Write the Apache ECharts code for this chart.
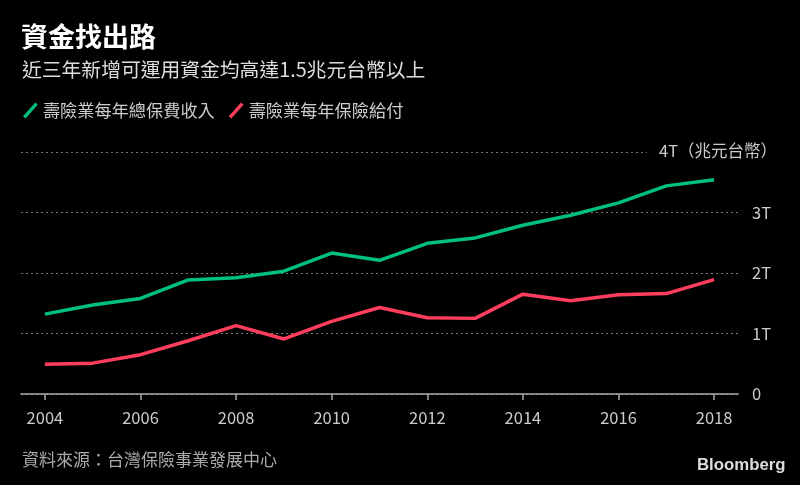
<!DOCTYPE html>
<html><head><meta charset="utf-8">
<script src="https://cdn.jsdelivr.net/npm/echarts@6/dist/echarts.min.js"></script>
<style>html,body{margin:0;padding:0;background:#000;}#c{width:800px;height:485px;}</style>
</head><body><div id="c"></div>
<script>
const years = ['2004','2005','2006','2007','2008','2009','2010','2011','2012','2013','2014','2015','2016','2017','2018'];
const premiumIncome = [1.32,1.47,1.58,1.885,1.92,2.03,2.33,2.21,2.49,2.58,2.79,2.955,3.16,3.44,3.54];
const benefitPaid = [0.49,0.51,0.65,0.88,1.13,0.91,1.20,1.43,1.26,1.25,1.65,1.54,1.64,1.66,1.89];
const seriesNames = ['壽險業每年總保費收入','壽險業每年保險給付'];
const yTicks = {0:'0',1:'1T',2:'2T',3:'3T',4:''};
const topLabel = '4T（兆元台幣）';

const FONT = '"Noto Sans CJK TC","Noto Sans",sans-serif';
const chart = echarts.init(document.getElementById('c'), null, {renderer:'canvas'});
const slash = 'path://M0,13.5 L12,0 L14.5,2.2 L2.5,15.7 Z';
chart.setOption({
  backgroundColor:'#000',
  animation:false,
  textStyle:{fontFamily:FONT},
  title:[
    {text:'資金找出路',left:21,top:23,padding:0,textStyle:{color:'#fff',fontSize:27,fontWeight:'bold',fontFamily:FONT}},
    {text:'近三年新增可運用資金均高達1.5兆元台幣以上',left:22,top:60,padding:0,textStyle:{color:'#ddd',fontSize:19.8,fontWeight:'normal',fontFamily:FONT}},
    {text:'資料來源：台灣保險事業發展中心',left:22,top:451,padding:0,textStyle:{color:'#aaa',fontSize:17,fontWeight:'normal',fontFamily:FONT}},
    {text:'Bloomberg',left:697,top:457,padding:0,textStyle:{color:'#ddd',fontSize:16.8,fontWeight:'bold',fontFamily:'"Liberation Sans",Arial,sans-serif'}}
  ],
  legend:{
    left:23,top:102,padding:0,itemWidth:15,itemHeight:16,itemGap:14,itemTextGap:6,
    textStyle:{color:'#ccc',fontSize:17.2,fontFamily:FONT},
    data:[{name:seriesNames[0],icon:slash},{name:seriesNames[1],icon:slash}]
  },
  grid:{left:21,right:62,top:152,bottom:91},
  xAxis:{
    type:'category',data:years,boundaryGap:true,
    axisLine:{show:true,lineStyle:{color:'#aaa',width:1.5}},
    axisTick:{show:true,alignWithLabel:true,interval:1,length:6,lineStyle:{color:'#aaa',width:1.5}},
    axisLabel:{color:'#ccc',fontSize:16.5,margin:15,interval:1,fontFamily:FONT},
    splitLine:{show:false}
  },
  yAxis:{
    type:'value',position:'right',min:0,max:4,interval:1,
    axisLine:{show:false},axisTick:{show:false},
    axisLabel:{color:'#ccc',fontSize:16.5,margin:14,align:'left',fontFamily:FONT,formatter:v=>yTicks[v]},
    splitLine:{show:true,lineStyle:{color:'#777',type:[2,3],width:1.2}}
  },
  series:[
    {name:seriesNames[0],type:'line',data:premiumIncome,symbol:'none',
     lineStyle:{color:'#00c07d',width:3.5},itemStyle:{color:'#00c07d'}},
    {name:seriesNames[1],type:'line',data:benefitPaid,symbol:'none',
     lineStyle:{color:'#ff3d5d',width:3.5},itemStyle:{color:'#ff3d5d'}}
  ]
});
const p4 = chart.convertToPixel({gridIndex:0},['2018',4]);
chart.setOption({graphic:[{
  type:'text',z:100,left:647,top:p4[1]-12,
  style:{text:topLabel,fill:'#ccc',font:'16.5px '+FONT,backgroundColor:'#000',padding:[2,10,2,12]}
}]});
</script></body></html>
